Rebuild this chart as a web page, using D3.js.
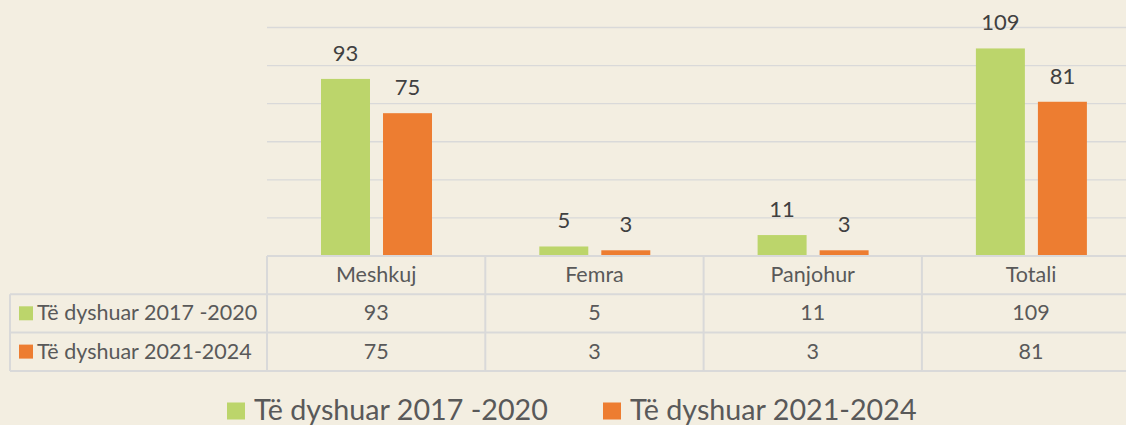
<!DOCTYPE html>
<html>
<head>
<meta charset="utf-8">
<script src="https://cdn.jsdelivr.net/npm/d3@7"></script>
<style>
  body { margin: 0; background: #f3eee1; }
  svg { display: block; }
  text { font-family: Lato, "Open Sans", sans-serif; }
</style>
</head>
<body>
<div id="chart"></div>
<script>
var categories = ["Meshkuj", "Femra", "Panjohur", "Totali"];
var seriesNames = ["Të dyshuar 2017 -2020", "Të dyshuar 2021-2024"];
var values2017 = [93, 5, 11, 109];
var values2021 = [75, 3, 3, 81];
var yTicks = [0, 20, 40, 60, 80, 100, 120];
var colors = ["#bcd56b", "#ed7d31"];

var width = 1126, height = 425;
var rows = seriesNames.map(function(name, i) {
    return {name: name, values: i == 0 ? values2017 : values2021, color: colors[i]};
});

var svg = d3.select("#chart")
    .append("svg")
    .attr("width", width)
    .attr("height", height);

svg.append("rect")
    .attr("width", width)
    .attr("height", height)
    .attr("fill", "#f3eee1");

var plotLeft = 267, colW = 218.3;
var x = d3.scaleBand()
    .domain(categories)
    .range([plotLeft, plotLeft + colW * categories.length]);

var x1 = d3.scaleBand()
    .domain([0, 1])
    .range([54, 165])
    .paddingInner(0.21);

var y = d3.scaleLinear()
    .domain([0, 120])
    .range([256, 27.5]);

// gridlines
svg.selectAll(".grid")
    .data(yTicks.slice(1))
    .enter()
    .append("line")
    .attr("x1", plotLeft)
    .attr("x2", width)
    .attr("y1", function(d) {return y(d);})
    .attr("y2", function(d) {return y(d);})
    .attr("stroke", "#d9d9d9")
    .attr("stroke-width", 1.3);

// bars
var groups = svg.selectAll(".series")
    .data(rows)
    .enter()
    .append("g");

groups.selectAll("rect")
    .data(function(r, i) {return r.values.map(function(v, j) {return {s: i, c: categories[j], v: v, color: r.color};});})
    .enter()
    .append("rect")
    .attr("x", function(d) {return x(d.c) + x1(d.s);})
    .attr("y", function(d) {return y(d.v);})
    .attr("width", x1.bandwidth())
    .attr("height", function(d) {return y(0) - y(d.v);})
    .attr("fill", function(d) {return d.color;});

// bar labels
groups.selectAll("text")
    .data(function(r, i) {return r.values.map(function(v, j) {return {s: i, c: categories[j], v: v};});})
    .enter()
    .append("text")
    .attr("x", function(d) {return x(d.c) + x1(d.s) + x1.bandwidth() / 2;})
    .attr("y", function(d) {return y(d.v) - 18;})
    .attr("text-anchor", "middle")
    .style("font-size", "22px")
    .style("fill", "#404040")
    .text(function(d) {return d.v;});

// data table
var rowH = 38.3, tableTop = 256, labelLeft = 10;
var tableRight = plotLeft + colW * categories.length;
var grid = svg.append("g")
    .attr("stroke", "#d9d9d9")
    .attr("stroke-width", 2);

grid.append("line")
    .attr("x1", plotLeft).attr("x2", tableRight)
    .attr("y1", tableTop).attr("y2", tableTop);
d3.range(1, rows.length + 2).forEach(function(k) {
    grid.append("line")
        .attr("x1", labelLeft).attr("x2", tableRight)
        .attr("y1", tableTop + rowH * k).attr("y2", tableTop + rowH * k);
});
grid.append("line")
    .attr("x1", labelLeft).attr("x2", labelLeft)
    .attr("y1", tableTop + rowH).attr("y2", tableTop + rowH * (rows.length + 1));
categories.concat(["end"]).forEach(function(c, i) {
    var xx = plotLeft + colW * i;
    grid.append("line")
        .attr("x1", xx).attr("x2", xx)
        .attr("y1", tableTop).attr("y2", tableTop + rowH * (rows.length + 1));
});

// header
svg.selectAll(".head")
    .data(categories)
    .enter()
    .append("text")
    .attr("x", function(d) {return x(d) + x.bandwidth() / 2;})
    .attr("y", tableTop + 26)
    .attr("text-anchor", "middle")
    .style("font-size", "21.5px")
    .style("fill", "#595959")
    .text(function(d) {return d;});

// rows
rows.forEach(function(r, i) {
    var top = tableTop + rowH * (i + 1);
    svg.append("rect")
        .attr("x", 19)
        .attr("y", top + 12)
        .attr("width", 14)
        .attr("height", 14)
        .attr("fill", r.color);
    svg.append("text")
        .attr("x", 37)
        .attr("y", top + 26)
        .style("font-size", "21.5px")
        .style("fill", "#595959")
        .text(r.name);
    svg.selectAll(".cell" + i)
        .data(r.values)
        .enter()
        .append("text")
        .attr("x", function(d, j) {return x(categories[j]) + x.bandwidth() / 2;})
        .attr("y", top + 26)
        .attr("text-anchor", "middle")
        .style("font-size", "21.5px")
        .style("fill", "#595959")
        .text(function(d) {return d;});
});

// legend
var legendX = [227, 603];
var legend = svg.selectAll(".legend")
    .data(rows)
    .enter()
    .append("g")
    .attr("transform", function(d, i) {return "translate(" + legendX[i] + ",402.5)";});
legend.append("rect")
    .attr("width", 18)
    .attr("height", 17)
    .attr("fill", function(d) {return d.color;});
legend.append("text")
    .attr("x", 27)
    .attr("y", 17)
    .style("font-size", "28.7px")
    .style("fill", "#595959")
    .text(function(d) {return d.name;});
</script>
</body>
</html>
